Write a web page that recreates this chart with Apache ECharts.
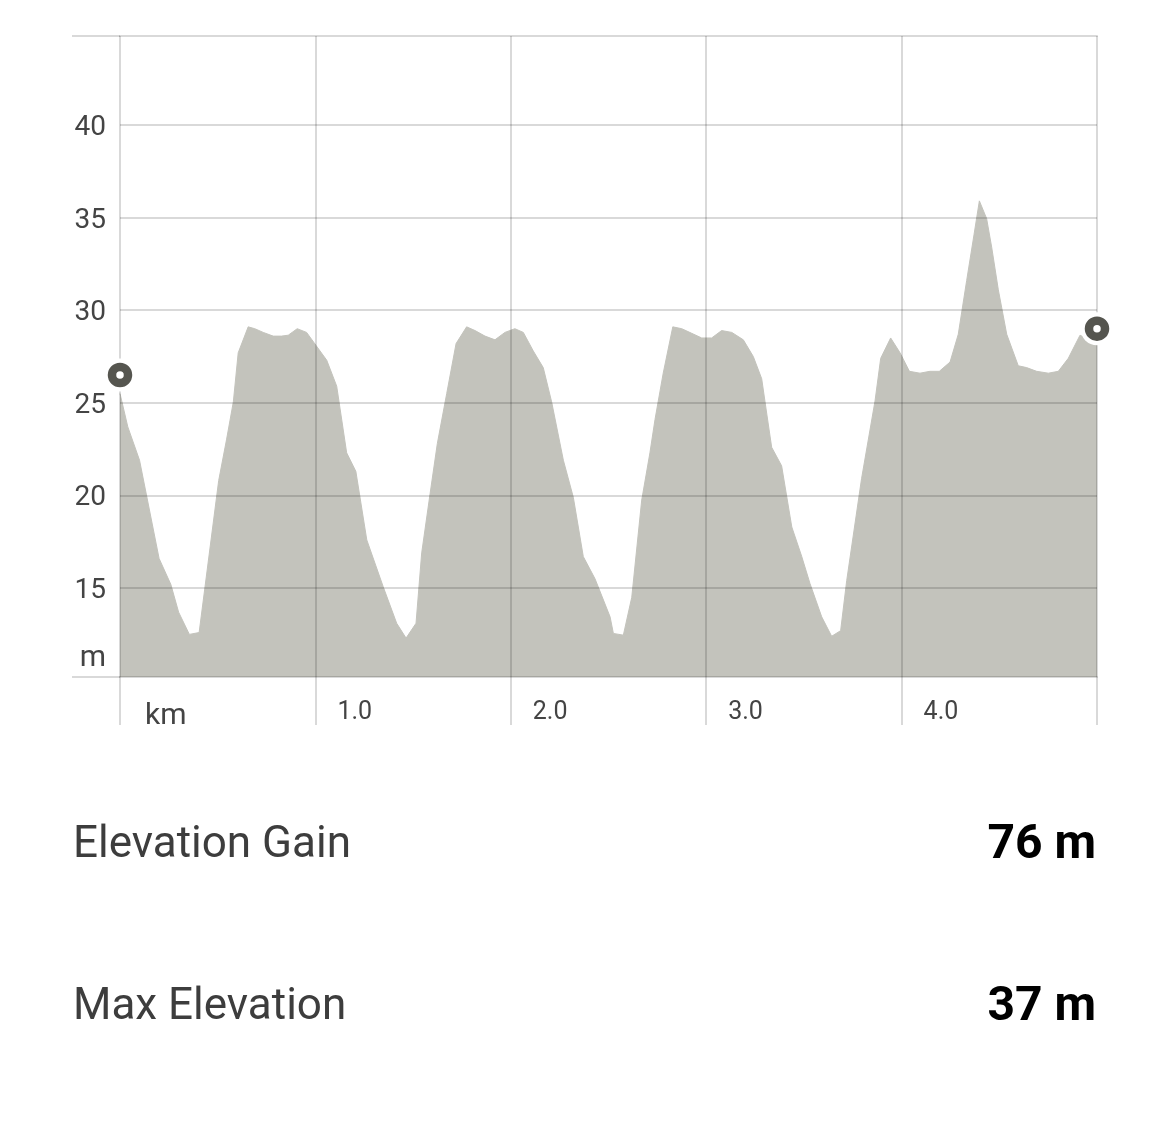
<!DOCTYPE html>
<html>
<head>
<meta charset="utf-8">
<title>Elevation profile</title>
<script src="https://cdn.jsdelivr.net/npm/echarts@6/dist/echarts.min.js"></script>
<style>
  html, body { margin: 0; padding: 0; background: #fff; }
  #chart { width: 1170px; height: 1126px; }
</style>
</head>
<body>
<div id="chart"></div>
<script>
// profile: distance (km) and elevation (m)
var distKm = [
  0.00, 0.04, 0.10, 0.20, 0.26, 0.30, 0.355, 0.405, 0.505, 0.545, 0.58, 0.605, 0.656, 0.69, 0.733, 0.784,
  0.827, 0.861, 0.907, 0.955, 1.003, 1.058, 1.109, 1.16, 1.207, 1.263, 1.347, 1.416, 1.464, 1.515, 1.544, 1.587,
  1.624, 1.672, 1.72, 1.774, 1.817, 1.868, 1.919, 1.97, 2.021, 2.064, 2.115, 2.166, 2.209, 2.269, 2.32, 2.371,
  2.431, 2.508, 2.525, 2.576, 2.619, 2.67, 2.712, 2.738, 2.78, 2.829, 2.875, 2.926, 2.977, 3.028, 3.079, 3.131,
  3.19, 3.241, 3.284, 3.31, 3.335, 3.386, 3.438, 3.489, 3.531, 3.591, 3.642, 3.688, 3.719, 3.795, 3.864, 3.893,
  3.944, 3.992, 4.04, 4.094, 4.145, 4.193, 4.248, 4.29, 4.333, 4.371, 4.398, 4.435, 4.461, 4.495, 4.538, 4.597,
  4.64, 4.691, 4.751, 4.802, 4.853, 4.913, 5.00
];
var elevM = [
  25.5, 23.7, 21.9, 16.6, 15.2, 13.7, 12.5, 12.6, 20.8, 23.0, 25.05, 27.7, 29.1, 29.0, 28.8, 28.6,
  28.6, 28.65, 29.0, 28.8, 28.1, 27.3, 25.9, 22.3, 21.3, 17.6, 15.07, 13.1, 12.3, 13.1, 16.9, 20.1,
  22.8, 25.5, 28.2, 29.1, 28.9, 28.6, 28.4, 28.8, 29.0, 28.8, 27.8, 26.9, 25.05, 21.9, 19.9, 16.7,
  15.5, 13.45, 12.55, 12.46, 14.5, 19.75, 22.3, 24.1, 26.6, 29.1, 29.0, 28.75, 28.5, 28.5, 28.9, 28.8,
  28.4, 27.5, 26.3, 24.4, 22.6, 21.6, 18.3, 16.7, 15.25, 13.45, 12.4, 12.7, 15.4, 20.9, 25.1, 27.4,
  28.5, 27.7, 26.7, 26.6, 26.7, 26.7, 27.2, 28.7, 31.6, 34.1, 35.9, 34.95, 33.4, 31.1, 28.7, 27.0,
  26.9, 26.7, 26.6, 26.7, 27.4, 28.65, 28.2
];

// start / end pins
var markerKm = [0, 5.0];
var markerElev = [26.5, 29.0];

var yTicks = [15, 20, 25, 30, 35, 40];
var xTicks = [0, 1, 2, 3, 4, 5];

var statLabels = ['Elevation Gain', 'Max Elevation'];
var statValues = ['76 m', '37 m'];

var gridColor = 'rgba(0,0,0,0.15)';
var font = 'Roboto';

var profile = distKm.map(function (d, i) { return [d, elevM[i]]; });
var pins = markerKm.map(function (d, i) { return [d, markerElev[i]]; });

var graphics = [
  // top and bottom rules run a little past the plot on the left
  { type: 'line', shape: { x1: 72, y1: 36, x2: 120, y2: 36 }, style: { stroke: '#d9d9d9', lineWidth: 2 } },
  { type: 'line', shape: { x1: 72, y1: 677, x2: 120, y2: 677 }, style: { stroke: '#d9d9d9', lineWidth: 2 } },
  { type: 'text', x: 106, y: 658,
    style: { text: 'm', font: '30px ' + font, fill: '#444', textAlign: 'right', textVerticalAlign: 'middle' } }
];
statLabels.forEach(function (lbl, i) {
  var y = i === 0 ? 846 : 1008;
  graphics.push({ type: 'text', x: 73, y: y,
    style: { text: lbl, font: '44px ' + font, fill: '#3d3d3d', textVerticalAlign: 'middle' } });
  graphics.push({ type: 'text', x: 1096, y: y,
    style: { text: statValues[i], font: 'bold 48px ' + font, fill: '#000', textAlign: 'right', textVerticalAlign: 'middle' } });
});

var myChart = echarts.init(document.getElementById('chart'));
myChart.setOption({
  backgroundColor: '#fff',
  animation: false,
  grid: { left: 120, right: 73, top: 36, bottom: 449 },
  xAxis: [{
    type: 'value',
    min: 0,
    max: 5,
    interval: 1,
    z: 3,
    axisLine: { lineStyle: { color: gridColor, width: 2 } },
    axisTick: { customValues: xTicks, length: 48, lineStyle: { color: gridColor, width: 2 } },
    splitLine: { lineStyle: { color: gridColor, width: 2 } },
    axisLabel: {
      customValues: xTicks,
      align: 'left',
      margin: 23,
      padding: [0, 0, 0, 22],
      fontFamily: font,
      fontSize: 25,
      lineHeight: 25,
      color: '#444',
      formatter: function (v) {
        if (v === 0) return '{u|km}';
        if (v === 5) return '';
        return v.toFixed(1);
      },
      rich: { u: { fontFamily: font, fontSize: 30, lineHeight: 30, color: '#444', padding: [3, 0, 0, 3] } }
    }
  }, {
    // top border of the plot
    type: 'value',
    position: 'top',
    min: 0,
    max: 5,
    z: 3,
    axisLine: { lineStyle: { color: gridColor, width: 2 } },
    axisTick: { show: false },
    axisLabel: { show: false },
    splitLine: { show: false }
  }],
  yAxis: {
    type: 'value',
    min: 10.2,
    max: 44.8,
    z: 3,
    axisLine: { show: false },
    axisTick: { show: false, customValues: yTicks },
    splitLine: { lineStyle: { color: gridColor, width: 2 } },
    axisLabel: {
      customValues: yTicks,
      margin: 14,
      formatter: function (v) { return '{n|' + v + '}'; },
      rich: { n: { fontFamily: font, fontSize: 28, lineHeight: 28, color: '#444', padding: [6, 0, 0, 0] } }
    }
  },
  series: [{
    type: 'line',
    data: profile,
    showSymbol: false,
    lineStyle: { width: 1, color: '#c3c3bc' },
    areaStyle: { color: '#c3c3bc', opacity: 1 },
    z: 2
  }, {
    // white halo behind pins
    type: 'scatter',
    data: pins,
    clip: false,
    symbolSize: 33,
    itemStyle: { color: '#fff', opacity: 1 },
    z: 4
  }, {
    type: 'scatter',
    data: pins,
    clip: false,
    symbolSize: 16,
    itemStyle: { color: '#fff', borderColor: '#55554f', borderWidth: 8.5, opacity: 1 },
    z: 5
  }],
  graphic: graphics
});
</script>
</body>
</html>
